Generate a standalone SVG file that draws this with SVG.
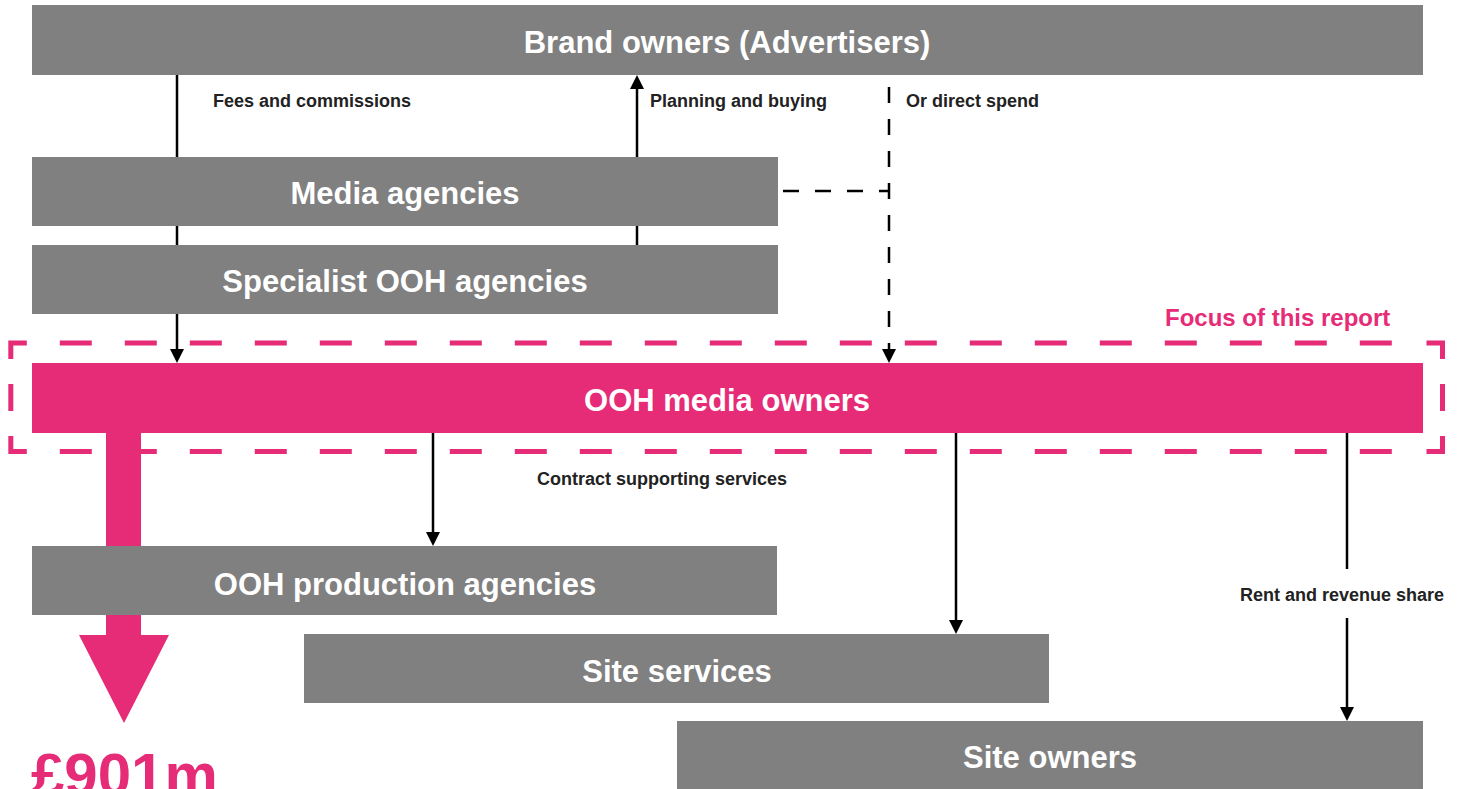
<svg xmlns="http://www.w3.org/2000/svg" width="1472" height="789" viewBox="0 0 1472 789">
<style>
.box{fill:#808080}
.pink{fill:#E62B77}
.bt{font-family:"Liberation Sans",Arial,sans-serif;font-weight:bold;font-size:31px;fill:#FFFFFF;text-anchor:middle}
.lbl{font-family:"Liberation Sans",Arial,sans-serif;font-weight:bold;font-size:18px;fill:#222222}
.conn{stroke:#000000;stroke-width:2.5;fill:none}
.dash{stroke-dasharray:16 16}
.focus{stroke:#E62B77;stroke-width:5;fill:none}
</style>
<defs>
<marker id="ah" viewBox="0 0 14 14" refX="0" refY="7" markerWidth="14" markerHeight="14" markerUnits="userSpaceOnUse" orient="auto">
<path d="M0,0 L14,7 L0,14 Z" fill="#000000"/>
</marker>
</defs>
<rect width="1472" height="789" fill="#FFFFFF"/>

<g id="connectors">
<polygon class="pink" points="106,433 141,433 141,635 169,635 124,723 79,635 106,635"/>
<line class="conn" x1="177" y1="75" x2="177" y2="349" marker-end="url(#ah)"/>
<line class="conn" x1="637" y1="313" x2="637" y2="89" marker-end="url(#ah)"/>
<line class="conn dash" x1="783" y1="191" x2="889" y2="191"/>
<line class="conn dash" x1="889" y1="87" x2="889" y2="349" marker-end="url(#ah)"/>
<line class="conn" x1="433" y1="433" x2="433" y2="532" marker-end="url(#ah)"/>
<line class="conn" x1="956" y1="433" x2="956" y2="620" marker-end="url(#ah)"/>
<line class="conn" x1="1347" y1="433" x2="1347" y2="569"/>
<line class="conn" x1="1347" y1="618" x2="1347" y2="707" marker-end="url(#ah)"/>
<text class="lbl" x="213" y="107">Fees and commissions</text>
<text class="lbl" x="650" y="107">Planning and buying</text>
<text class="lbl" x="906" y="107">Or direct spend</text>
<text class="lbl" x="537" y="485">Contract supporting services</text>
<text class="lbl" x="1240" y="601">Rent and revenue share</text>
</g>

<g id="focus">
<path class="focus" d="M10.8,359 V343 H26.8 M1426.5,343 H1442.5 V359 M10.8,436 V451.5 H26.8 M1426.5,451.5 H1442.5 V436 M10.8,384 V411 M1442.5,384 V411"/>
<line class="focus" x1="26.8" y1="343" x2="1391.8" y2="343" stroke-dasharray="32 33" stroke-dashoffset="32"/>
<line class="focus" x1="26.8" y1="451.5" x2="1391.8" y2="451.5" stroke-dasharray="32 33" stroke-dashoffset="32"/>
<text x="1165" y="326" font-family="Liberation Sans, Arial, sans-serif" font-weight="bold" font-size="24" fill="#E62B77">Focus of this report</text>
</g>

<g id="brand-owners">
<rect class="box" x="32" y="5" width="1391" height="70"/>
<text class="bt" x="727" y="53">Brand owners (Advertisers)</text>
</g>
<g id="media-agencies">
<rect class="box" x="32" y="157" width="746" height="69"/>
<text class="bt" x="405" y="204">Media agencies</text>
</g>
<g id="specialist-ooh-agencies">
<rect class="box" x="32" y="245" width="746" height="69"/>
<text class="bt" x="405" y="292">Specialist OOH agencies</text>
</g>
<g id="ooh-media-owners">
<rect class="pink" x="32" y="363" width="1391" height="70"/>
<text class="bt" x="727" y="411">OOH media owners</text>
</g>
<g id="ooh-production-agencies">
<rect class="box" x="32" y="546" width="745" height="69"/>
<text class="bt" x="405" y="595">OOH production agencies</text>
</g>
<g id="site-services">
<rect class="box" x="304" y="634" width="745" height="69"/>
<text class="bt" x="677" y="682">Site services</text>
</g>
<g id="site-owners">
<rect class="box" x="677" y="721" width="746" height="68"/>
<text class="bt" x="1050" y="768">Site owners</text>
</g>
<g id="value-901m">
<text x="31" y="795" font-family="Liberation Sans, Arial, sans-serif" font-weight="bold" font-size="60" fill="#E62B77">£901m</text>
</g>
</svg>
